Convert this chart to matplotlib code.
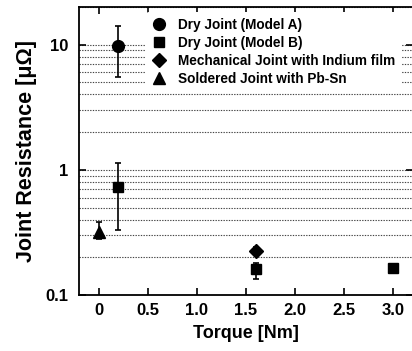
import matplotlib
matplotlib.use("Agg")
import matplotlib.pyplot as plt
from matplotlib.lines import Line2D
import numpy as np

plt.rcParams['font.family'] = ['Liberation Sans', 'DejaVu Sans']
plt.rcParams['font.weight'] = 'bold'

labels = ["Dry Joint (Model A)", "Dry Joint (Model B)",
          "Mechanical Joint with Indium film", "Soldered Joint with Pb-Sn"]
markers = ["o", "s", "D", "^"]

a_x = [0.2]; a_y = [9.7]; a_lo = [5.55]; a_hi = [14.0]
b_x = [0.2, 1.6, 3.0]; b_y = [0.735, 0.16, 0.165]; b_lo = [0.33, 0.133, 0.165]; b_hi = [1.14, 0.179, 0.165]
m_x = [1.6]; m_y = [0.225]; m_lo = [0.209]; m_hi = [0.241]
s_x = [0.0]; s_y = [0.32]; s_lo = [0.28]; s_hi = [0.38]

series = [(a_x, a_y, a_lo, a_hi), (b_x, b_y, b_lo, b_hi),
          (m_x, m_y, m_lo, m_hi), (s_x, s_y, s_lo, s_hi)]
msizes = [8.5, 7.5, 7, 8]

xticks = [0, 0.5, 1.0, 1.5, 2.0, 2.5, 3.0]
xticklabels = ["0", "0.5", "1.0", "1.5", "2.0", "2.5", "3.0"]
yticks = [0.1, 1, 10]
yticklabels = ["0.1", "1", "10"]

fig = plt.figure(figsize=(4.12, 3.51), dpi=100)
ax = fig.add_axes([79/412, 56/351, 334/412, 288/351])
ax.set_yscale('log')
ax.set_xlim(-0.2, 3.2)
ax.set_ylim(0.1, 20)

# dotted gridlines at minor positions
grid_vals = [m * 10.0**e for e in (-1, 0, 1) for m in range(1, 10) if 0.1 < m * 10.0**e <= 20]
for g in grid_vals:
    ax.axhline(g, color='#444444', lw=0.8, ls=(0, (1.2, 1.2)), zorder=0)

handles = []
for (x, y, lo, hi), mk, lab, ms in zip(series, markers, labels, msizes):
    y = np.array(y); lo = np.array(lo); hi = np.array(hi)
    yerr = np.vstack([y - lo, hi - y])
    ax.errorbar(x, y, yerr=yerr, fmt=mk, color='black', ms=ms, capsize=2.5,
                elinewidth=1.2, capthick=1.2, zorder=3)
    handles.append(Line2D([], [], ls='none', marker=mk, color='black', ms=ms))

ax.set_xticks(xticks)
ax.set_xticklabels(xticklabels)
ax.set_yticks(yticks)
ax.set_yticklabels(yticklabels)
ax.yaxis.set_minor_locator(matplotlib.ticker.NullLocator())
ax.tick_params(which='major', direction='in', top=True, right=True, length=5, width=1.2,
               labelsize=12, pad=6)
ax.tick_params(axis='y', pad=8)
for s in ax.spines.values():
    s.set_linewidth(1.3)

ax.set_xlabel("Torque [Nm]", fontsize=13, fontweight='bold', labelpad=5)
ax.set_ylabel("Joint Resistance [μΩ]", fontsize=15.5, fontweight='bold', labelpad=6)

leg = ax.legend(handles=handles, labels=labels, loc='upper left',
                bbox_to_anchor=((146 - 79) / 334, (295 - 12) / 288),
                frameon=True, facecolor='white', edgecolor='none', framealpha=1,
                fontsize=9.8, handletextpad=0.9, labelspacing=0.28, borderpad=0.45,
                handlelength=1.0, borderaxespad=0.0)
for t in leg.get_texts():
    t.set_fontweight('bold')
leg.set_zorder(5)

fig.savefig("out.png", dpi=100)
